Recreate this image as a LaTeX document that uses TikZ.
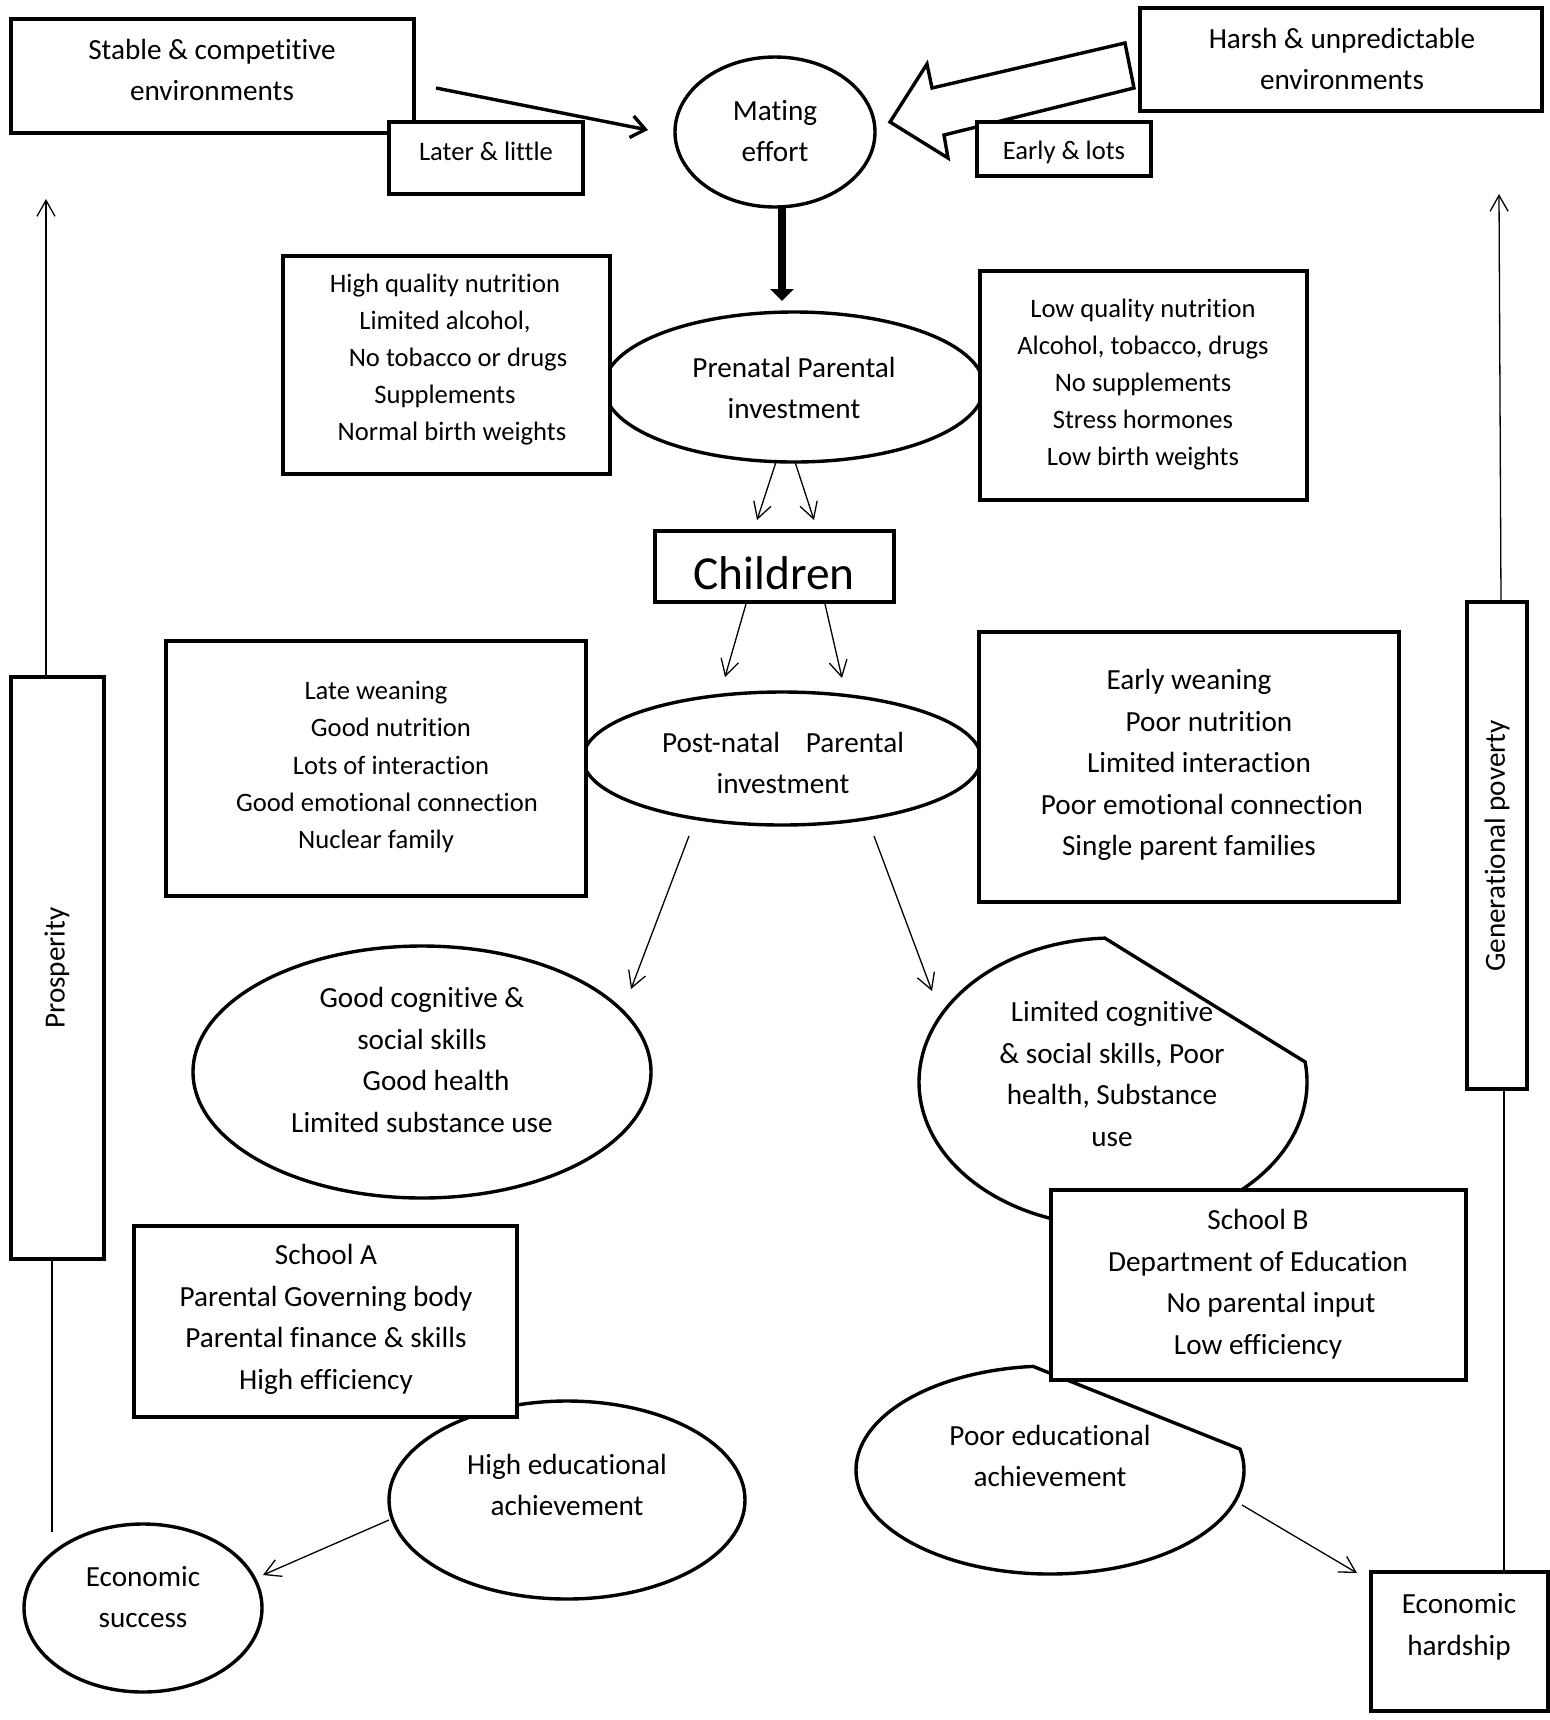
\documentclass[tikz,border=0pt]{standalone}
\usepackage{fontspec}
\setmainfont{Carlito}[Ligatures={NoCommon}]
\usetikzlibrary{shapes.geometric,arrows.meta}
\begin{document}
\begin{tikzpicture}[x=0.5pt,y=-0.5pt,
  box/.style={draw,line width=1.7pt,fill=white,rectangle,inner sep=0pt},
  ell/.style={draw,line width=1.7pt,fill=white,ellipse,inner sep=0pt},
  big/.style={font=\fontsize{14.6}{20.8}\selectfont,align=center,inner sep=0pt},
  small/.style={font=\fontsize{13.3}{18.6}\selectfont,align=center,inner sep=0pt},
  thinarrow/.style={line width=0.65pt,-{Straight Barb[length=8pt,width=9pt]}},
  thinline/.style={line width=0.65pt},
]
\useasboundingbox[fill=white] (0,0) rectangle (1550,1720);

% ---- top row
\node[box,minimum width=201.5pt,minimum height=57pt] (stable) at (212.5,76) {};
\node[big] (stablet) at (212,70) {Stable \& competitive\\environments};
\node[box,minimum width=97pt,minimum height=36pt] (later) at (486,158) {};
\node[small] (latert) at (486,151) {Later \& little};
\coordinate (sa1) at (436,88);
\coordinate (sa2) at (648,130);
\draw[line width=1.7pt,-{Straight Barb[length=7pt,width=11pt]}] (sa1) -- (sa2);

\node[ell,minimum width=100pt,minimum height=75pt] (mating) at (775,132) {};
\node[big] (matingt) at (775,131) {Mating\\effort};

\draw[line width=1.7pt,fill=white] (890,122) -- (927,64) -- (932,88) -- (1125,43) -- (1134,88) -- (944,135) -- (948,158) -- cycle;
\node[box,minimum width=201pt,minimum height=51.5pt] (harsh) at (1341,59.5) {};
\node[big] (harsht) at (1342,59) {Harsh \& unpredictable\\environments};
\node[box,minimum width=87pt,minimum height=27pt] (early) at (1064,149) {};
\node[small] (earlyt) at (1064,152) {Early \& lots};

\coordinate (ma1) at (782,206);
\coordinate (ma2) at (782,301);
\draw[line width=4.3pt,-{Triangle[length=6pt,width=11.5pt]}] (ma1) -- (ma2);

% ---- prenatal
\node[ell,minimum width=190pt,minimum height=75pt] (prenatal) at (794,387) {};
\node[big] (prenatalt) at (794,388) {Prenatal Parental\\investment};
\node[box,minimum width=163.5pt,minimum height=109pt] (hq) at (446.5,365) {};
\node[small] (hqt) at (445,359.5) {High quality nutrition\\Limited alcohol,\\\hspace*{13pt}No tobacco or drugs\\Supplements\\\hspace*{7pt}Normal birth weights};
\node[box,minimum width=163.5pt,minimum height=114.5pt] (lq) at (1143.5,385.5) {};
\node[small] (lqt) at (1143,384.5) {Low quality nutrition\\Alcohol, tobacco, drugs\\No supplements\\Stress hormones\\Low birth weights};

\coordinate (pc1) at (776,462); \coordinate (pc2) at (757,520);
\coordinate (pc3) at (795,462); \coordinate (pc4) at (814,520);
\draw[thinarrow] (pc1) -- (pc2);
\draw[thinarrow] (pc3) -- (pc4);

% ---- children
\node[box,minimum width=119.5pt,minimum height=35.5pt] (children) at (774.5,566.5) {};
\node[font=\fontsize{23.7}{28}\selectfont,inner sep=0pt] (childrent) at (774,573) {Children};

\coordinate (cp1) at (746,604); \coordinate (cp2) at (725,677);
\coordinate (cp3) at (825,604); \coordinate (cp4) at (842,678);
\draw[thinarrow] (cp1) -- (cp2);
\draw[thinarrow] (cp3) -- (cp4);

% ---- postnatal
\node[ell,minimum width=199pt,minimum height=66.5pt] (postnatal) at (782,758.5) {};
\node[big] (postnatalt) at (783,763) {Post-natal\hspace{13pt}Parental\\investment};
\node[box,minimum width=210pt,minimum height=127.5pt] (late) at (376,768.5) {};
\node[small] (latet) at (376,767) {Late weaning\\\hspace*{15pt}Good nutrition\\\hspace*{15pt}Lots of interaction\\\hspace*{11pt}Good emotional connection\\Nuclear family};
\node[box,minimum width=210pt,minimum height=135pt] (earlyw) at (1189,767) {};
\node[big] (earlywt) at (1189,765) {Early weaning\\\hspace*{20pt}Poor nutrition\\\hspace*{10pt}Limited interaction\\\hspace*{13pt}Poor emotional connection\\Single parent families};

\coordinate (pg1) at (689,836); \coordinate (pg2) at (631,989);
\coordinate (pl1) at (874,836); \coordinate (pl2) at (932,991);
\draw[thinarrow] (pg1) -- (pg2);
\draw[thinarrow] (pl1) -- (pl2);

% ---- outcomes
\node[ell,minimum width=229pt,minimum height=126pt] (goodcog) at (422,1072) {};
\node[big] (goodcogt) at (422,1060) {Good cognitive \&\\social skills\\\hspace*{14pt}Good health\\Limited substance use};

\draw[line width=1.7pt,fill=white] (1113,1082) ++(-8:194 and 144) arc[start angle=-8,end angle=267.6,x radius=194,y radius=144] -- cycle;
\coordinate (limited) at (1113,1082);
\node[big] (limitedt) at (1112,1074) {Limited cognitive\\\& social skills, Poor\\health, Substance\\use};

\node[ell,minimum width=178pt,minimum height=99pt] (highedu) at (567,1500) {};
\node[big] (highedut) at (567,1485) {High educational\\achievement};

\node[box,minimum width=191.5pt,minimum height=95.5pt] (schoolA) at (325.5,1321.5) {};
\node[big] (schoolAt) at (326,1319.5) {School A\\Parental Governing body\\Parental finance \& skills\\High efficiency};

\draw[line width=1.7pt,fill=white] (1050,1470) ++(-11.6:194 and 104) arc[start angle=-11.6,end angle=265,x radius=194,y radius=104] -- cycle;
\coordinate (poor) at (1050,1470);
\node[big] (poort) at (1050,1456) {Poor educational\\achievement};

\node[box,minimum width=207.5pt,minimum height=95pt] (schoolB) at (1258.5,1285) {};
\node[big] (schoolBt) at (1258,1284) {School B\\Department of Education\\\hspace*{13pt}No parental input\\Low efficiency};

% ---- economic
\node[ell,minimum width=119pt,minimum height=84pt] (econs) at (143,1608) {};
\node[big] (econst) at (143,1597) {Economic\\success};
\node[box,minimum width=88.5pt,minimum height=69.5pt] (hard) at (1459.5,1641.5) {};
\node[big] (hardt) at (1459,1627) {Economic\\hardship};

\coordinate (he1) at (389,1520); \coordinate (he2) at (263,1575);
\draw[thinarrow] (he1) -- (he2);
\coordinate (ph1) at (1242,1505); \coordinate (ph2) at (1357,1573);
\draw[thinarrow] (ph1) -- (ph2);

% ---- side bars
\node[box,minimum width=46.5pt,minimum height=291pt] (prosp) at (57.5,968) {};
\node[big,rotate=90] (prospt) at (57,968) {Prosperity};
\node[box,minimum width=30pt,minimum height=243.5pt] (genpov) at (1497,845.5) {};
\node[big,rotate=90] (genpovt) at (1497,846) {Generational poverty};

\coordinate (es1) at (52,1532); \coordinate (es2) at (52,1259);
\draw[thinline] (es1) -- (es2);
\coordinate (pr1) at (46,677); \coordinate (pr2) at (46,199);
\draw[thinarrow] (pr1) -- (pr2);
\coordinate (eh1) at (1504,1572); \coordinate (eh2) at (1504,1089);
\draw[thinline] (eh1) -- (eh2);
\coordinate (gp1) at (1501,602); \coordinate (gp2) at (1499,194);
\draw[thinarrow] (gp1) -- (gp2);
\end{tikzpicture}
\end{document}
